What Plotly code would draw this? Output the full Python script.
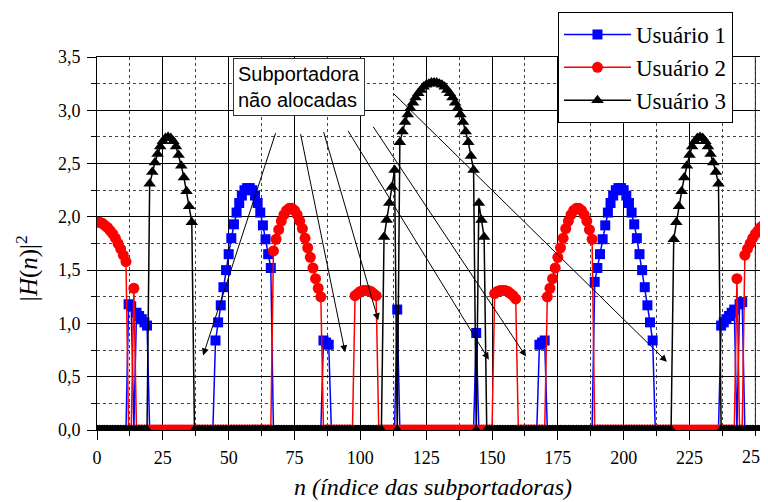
import plotly.graph_objects as go

# ---------------- data ----------------
N_SUB = 256
subcarriers = list(range(N_SUB))

# User 1 (blue) allocated subcarriers and |H(n)|^2
u1_n = [12, 13, 15, 16, 17, 18, 19] + list(range(45, 67)) + [86, 87, 88, 114, 144, 168, 169, 170] \
       + list(range(189, 212)) + [237, 238, 239, 240, 241, 242, 244, 245]
u1_h = [1.18, 1.16, 1.10, 1.07, 1.04, 1.01, 0.98,
        0.84, 1.01, 1.17, 1.34, 1.50, 1.65, 1.80, 1.93, 2.04, 2.13, 2.20, 2.25, 2.27, 2.27, 2.25,
        2.20, 2.13, 2.04, 1.92, 1.79, 1.65, 1.52,
        0.84, 0.82, 0.80, 1.13, 0.91, 0.80, 0.82, 0.84,
        1.39, 1.52, 1.65, 1.79, 1.92, 2.04, 2.13, 2.20, 2.25, 2.27, 2.27, 2.25, 2.20, 2.13, 2.04,
        1.93, 1.80, 1.65, 1.50, 1.34, 1.17, 1.01, 0.84,
        0.98, 1.01, 1.04, 1.07, 1.10, 1.13, 1.18, 1.20]

# User 2 (red)
u2_n = list(range(0, 12)) + [14] + list(range(67, 86)) + list(range(98, 107)) + list(range(151, 160)) \
       + list(range(171, 189)) + [243] + list(range(246, 256))
u2_h = [1.95, 1.95, 1.94, 1.92, 1.90, 1.87, 1.84, 1.80, 1.75, 1.70, 1.64, 1.58,
        1.33,
        1.68, 1.79, 1.88, 1.96, 2.02, 2.06, 2.08, 2.08, 2.06, 2.02, 1.96, 1.89, 1.80, 1.71, 1.62,
        1.52, 1.42, 1.33, 1.25,
        1.26, 1.28, 1.30, 1.31, 1.31, 1.31, 1.30, 1.28, 1.26,
        1.28, 1.30, 1.31, 1.31, 1.31, 1.30, 1.28, 1.26, 1.23,
        1.25, 1.33, 1.42, 1.52, 1.62, 1.71, 1.80, 1.89, 1.96, 2.02, 2.06, 2.08, 2.08, 2.06, 2.02,
        1.96, 1.88, 1.79,
        1.42,
        1.64, 1.70, 1.75, 1.80, 1.84, 1.87, 1.90, 1.92, 1.94, 1.95]

# User 3 (black)
u3_n = list(range(20, 37)) + list(range(109, 114)) + list(range(115, 144)) + [145, 146, 147] \
       + list(range(219, 237))
u3_h = [2.31, 2.42, 2.51, 2.59, 2.66, 2.71, 2.74, 2.75, 2.74, 2.71, 2.66, 2.58, 2.48, 2.37, 2.24,
        2.10, 1.95,
        1.81, 1.97, 2.13, 2.28, 2.44,
        2.70, 2.80, 2.89, 2.96, 3.02, 3.07, 3.12, 3.16, 3.19, 3.22, 3.24, 3.25, 3.26, 3.26, 3.26,
        3.25, 3.24, 3.22, 3.19, 3.16, 3.12, 3.07, 3.02, 2.96, 2.89, 2.80, 2.70, 2.57, 2.44,
        2.13, 1.97, 1.81,
        1.79, 1.95, 2.10, 2.24, 2.37, 2.48, 2.58, 2.66, 2.71, 2.74, 2.75, 2.74, 2.71, 2.66, 2.59,
        2.51, 2.42, 2.31]

series_names = ["Usuário 1", "Usuário 2", "Usuário 3"]
x_ticks = [0, 25, 50, 75, 100, 125, 150, 175, 200, 225, 250]

# unallocated-subcarrier arrows (tail -> head, data coords)
arrow_tail_x = [68.0, 77.2, 85.9, 95.0, 104.5, 112.1]
arrow_tail_y = [2.80, 2.79, 2.81, 2.82, 2.86, 3.17]
arrow_head_x = [40.3, 94.2, 106.8, 148.8, 162.9, 216.4]
arrow_head_y = [0.70, 0.73, 1.03, 0.66, 0.69, 0.64]


def full_series(idx, vals):
    y = [0.0] * N_SUB
    for n, v in zip(idx, vals):
        y[n] = v
    return y


y1 = full_series(u1_n, u1_h)
y2 = full_series(u2_n, u2_h)
y3 = full_series(u3_n, u3_h)

# ---------------- figure ----------------
fig = go.Figure()
styles = [("#0000FF", "square", 10), ("#FF0000", "circle", 11), ("#000000", "triangle-up", 11)]
for name, ys, (col, sym, sz) in zip(series_names, [y1, y2, y3], styles):
    fig.add_trace(go.Scatter(
        x=subcarriers, y=ys, mode="lines+markers", name=name,
        line=dict(color=col, width=1.5),
        marker=dict(color=col, symbol=sym, size=sz, line=dict(width=0)),
    ))

for tx, ty, hx, hy in zip(arrow_tail_x, arrow_tail_y, arrow_head_x, arrow_head_y):
    fig.add_annotation(x=hx, y=hy, ax=tx, ay=ty, xref="x", yref="y", axref="x", ayref="y",
                       text="", showarrow=True, arrowhead=2, arrowsize=1.4, arrowwidth=1,
                       arrowcolor="black", standoff=0, startstandoff=0)

fig.add_annotation(text="Subportadora<br>não alocadas", xref="paper", yref="paper",
                   x=0.2027, y=0.997, xanchor="left", yanchor="top", align="left",
                   showarrow=False, font=dict(family="Liberation Sans", size=20, color="black"),
                   bgcolor="white", bordercolor="#333", borderwidth=1, borderpad=4)

serif = "Liberation Serif"
fig.add_annotation(text="<i>n (índice das subportadoras)</i>", xref="paper", yref="paper",
                   x=0.5, y=-0.153, xanchor="center", yanchor="middle", showarrow=False,
                   font=dict(family=serif, size=24, color="black"))
fig.add_annotation(text="|<i>H</i>(<i>n</i>)|<sup>2</sup>", xref="paper", yref="paper",
                   x=-0.1043, y=0.434, xanchor="center", yanchor="middle", showarrow=False,
                   textangle=-90, font=dict(family=serif, size=25, color="black"))
# last x tick label, which sits on the window edge
fig.add_annotation(text=str(x_ticks[-1]), xref="x", yref="paper", x=x_ticks[-1], y=-0.072,
                   xanchor="center", yanchor="middle", showarrow=False,
                   font=dict(family=serif, size=18, color="black"))

axis_common = dict(
    showline=True, linecolor="black", linewidth=1, mirror=True,
    ticks="outside", ticklen=9, tickwidth=1, tickcolor="black",
    showgrid=True, gridcolor="black", gridwidth=1, zeroline=False,
    tickfont=dict(family=serif, size=18, color="black"),
)
fig.update_xaxes(range=[0, 254.8], tickvals=x_ticks[:-1], ticklabelstandoff=2,
                 minor=dict(dtick=12.5, tick0=0, ticks="outside", ticklen=5, tickcolor="black",
                            showgrid=True, gridcolor="#444", griddash="dot", gridwidth=1),
                 **axis_common)
fig.update_yaxes(range=[0, 3.5], dtick=0.5, tick0=0, tickformat=".1f", ticklabelstandoff=3,
                 minor=dict(dtick=0.25, tick0=0, ticks="outside", ticklen=5, tickcolor="black",
                            showgrid=True, gridcolor="#444", griddash="dot", gridwidth=1),
                 **axis_common)
# major grid/tick at 250 (label drawn as annotation above)
fig.add_vline(x=x_ticks[-1], line=dict(color="black", width=1), layer="below")

# the page body has an 8px margin; the figure is sized to fill the rest of the window
fig.update_layout(
    width=760, height=494,
    margin=dict(l=89, r=0, t=49, b=72, autoexpand=False),
    paper_bgcolor="white", plot_bgcolor="white",
    separators=",.",
    font=dict(family=serif, color="black"),
    legend=dict(x=0.687, y=1.1206, xanchor="left", yanchor="top",
                bgcolor="white", bordercolor="black", borderwidth=1,
                font=dict(family=serif, size=23, color="black"),
                itemwidth=67, tracegroupgap=0),
    showlegend=True,
)

fig.write_html("out.html")
